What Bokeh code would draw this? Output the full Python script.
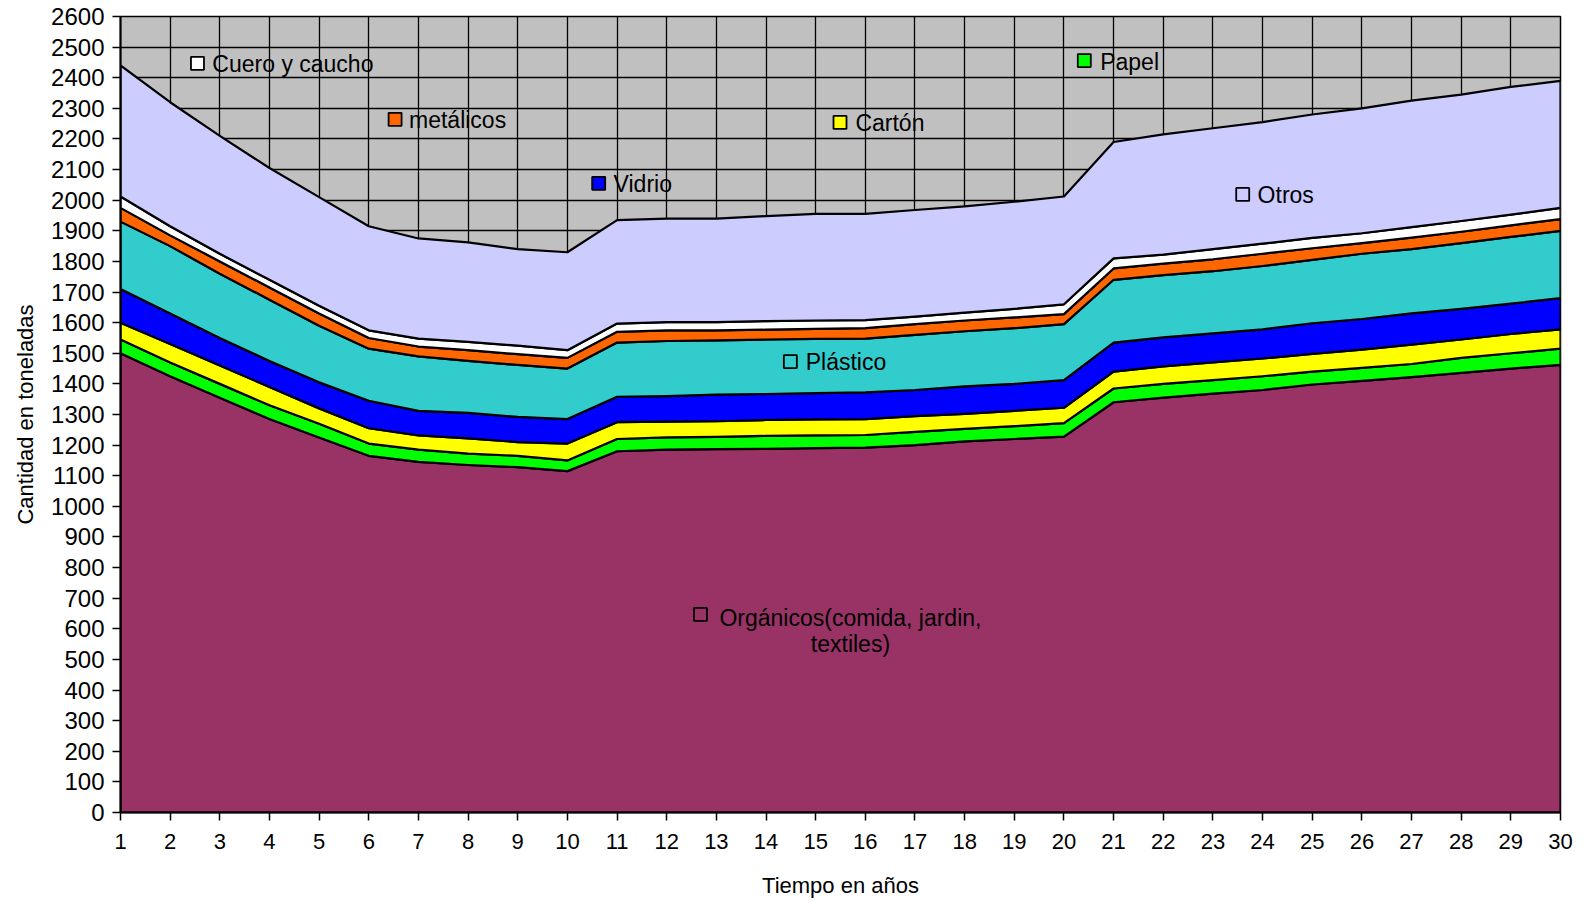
import numpy as np
from bokeh.plotting import figure
from bokeh.models import FixedTicker, Range1d
from bokeh.core.properties import value
from bokeh.embed import file_html
from bokeh.resources import INLINE

# Years of the projection
years = list(range(1, 31))

# Tonnes per waste category and year (stacked bottom to top)
organicos = [1500, 1425, 1355, 1285, 1225, 1165, 1145, 1135, 1128, 1115,
             1180, 1185, 1187, 1188, 1190, 1192, 1200, 1212, 1220, 1228,
             1340, 1355, 1368, 1380, 1398, 1410, 1422, 1436, 1450, 1462]
papel = [45, 45, 45, 45, 45, 40, 40, 37, 37, 35,
         40, 40, 40, 42, 42, 41, 43, 41, 42, 44,
         45, 45, 44, 45, 42, 42, 43, 49, 50, 53]
carton = [55, 60, 60, 60, 50, 50, 47, 50, 45, 55,
          55, 52, 51, 52, 52, 52, 52, 49, 50, 50,
          55, 57, 58, 58, 58, 60, 63, 60, 63, 63]
vidrio = [110, 100, 90, 85, 85, 90, 80, 83, 82, 80,
          83, 83, 87, 85, 86, 87, 85, 90, 88, 90,
          95, 95, 95, 95, 100, 100, 102, 100, 99, 102]
plastico = [220, 220, 210, 200, 185, 170, 178, 170, 170, 165,
            177, 180, 177, 178, 177, 176, 180, 180, 182, 183,
            205, 203, 203, 207, 207, 213, 210, 215, 218, 220]
metalicos = [45, 35, 40, 40, 40, 35, 32, 35, 35, 35,
             35, 35, 33, 32, 33, 34, 35, 35, 35, 33,
             37, 38, 39, 40, 38, 35, 38, 37, 38, 38]
cuero = [37, 30, 25, 25, 25, 25, 26, 27, 28, 25,
         27, 27, 27, 28, 27, 26, 25, 26, 28, 32,
         33, 29, 33, 33, 34, 32, 34, 35, 35, 37]
otros = [428, 405, 385, 365, 355, 340, 327, 325, 315, 320,
         338, 338, 338, 343, 348, 347, 348, 347, 350, 352,
         380, 393, 395, 397, 403, 408, 413, 413, 417, 415]

series = [organicos, papel, carton, vidrio, plastico, metalicos, cuero, otros]
colors = ["#993366", "#00FF00", "#FFFF00", "#0000FF",
          "#33CCCC", "#FF6600", "#FFFFFF", "#CCCCFF"]

y_ticks = list(range(0, 2700, 100))

FONT = value("Liberation Sans")

p = figure(width=1586, height=901, output_backend="svg", toolbar_location=None,
           x_range=Range1d(1, 30), y_range=Range1d(0, 2600),
           min_border_left=120, min_border_right=26,
           min_border_top=16, min_border_bottom=89)
p.background_fill_color = "#C0C0C0"
p.border_fill_color = "white"
p.outline_line_color = "black"
p.outline_line_width = 1.5

# grid
p.xgrid.ticker = FixedTicker(ticks=years)
p.ygrid.ticker = FixedTicker(ticks=y_ticks)
for g in (p.xgrid, p.ygrid):
    g.grid_line_color = "black"
    g.grid_line_width = 1.3
    g.grid_line_alpha = 1.0

# stacked areas
bottom = np.zeros(len(years))
for vals, col in zip(series, colors):
    top = bottom + np.array(vals, dtype=float)
    xs = years + years[::-1]
    ys = list(top) + list(bottom[::-1])
    p.patch(xs, ys, fill_color=col, line_color="black", line_width=2.2,
            line_join="round")
    bottom = top

# axes
p.xaxis.ticker = FixedTicker(ticks=years)
p.yaxis.ticker = FixedTicker(ticks=y_ticks)
for ax in (p.xaxis, p.yaxis):
    ax.axis_line_color = "black"
    ax.axis_line_width = 2
    ax.major_tick_line_color = "black"
    ax.major_tick_line_width = 1.5
    ax.major_tick_out = 8
    ax.major_tick_in = 0
    ax.minor_tick_line_color = None
    ax.major_label_text_font = "Liberation Sans"
    ax.major_label_text_color = "black"
    ax.axis_label_text_font = "Liberation Sans"
    ax.axis_label_text_font_size = "22px"
    ax.axis_label_text_font_style = "normal"
    ax.axis_label_text_color = "black"
p.xaxis.major_label_text_font_size = "22px"
p.yaxis.major_label_text_font_size = "24px"
p.xaxis.major_label_standoff = 13
p.yaxis.major_label_standoff = 8
p.xaxis.axis_label = "Tiempo en años"
p.yaxis.axis_label = "Cantidad en toneladas"
p.xaxis.axis_label_standoff = 21
p.yaxis.axis_label_standoff = 10

# data labels with their legend keys
key_x = [2.55, 6.53, 10.63, 15.49, 20.41, 23.60, 14.49, 12.68]
key_y = [2447, 2264, 2055, 2254, 2456, 2019, 1473, 647]
key_col = ["#FFFFFF", "#FF6600", "#0000FF", "#FFFF00",
           "#00FF00", "#CCCCFF", "#33CCCC", "#993366"]
p.scatter(key_x, key_y, marker="square", size=13, fill_color=key_col,
          line_color="black", line_width=1.8)

lab_text = ["Cuero y caucho", "metálicos", "Vidrio", "Cartón",
            "Papel", "Otros", "Plástico"]
lab_x = [2.85, 6.81, 10.93, 15.80, 20.73, 23.90, 14.80]
lab_y = [2444, 2261, 2052, 2251, 2453, 2016, 1470]
p.text(lab_x, lab_y, text=lab_text, text_font=FONT, text_font_size="23px",
       text_color="black", text_align="left", text_baseline="middle")

p.text([15.70, 15.70], [634, 549],
       text=["Orgánicos(comida, jardin,", "textiles)"],
       text_font=FONT, text_font_size="23px", text_color="black",
       text_align="center", text_baseline="middle")

open("out.html", "w").write(file_html(p, INLINE))
